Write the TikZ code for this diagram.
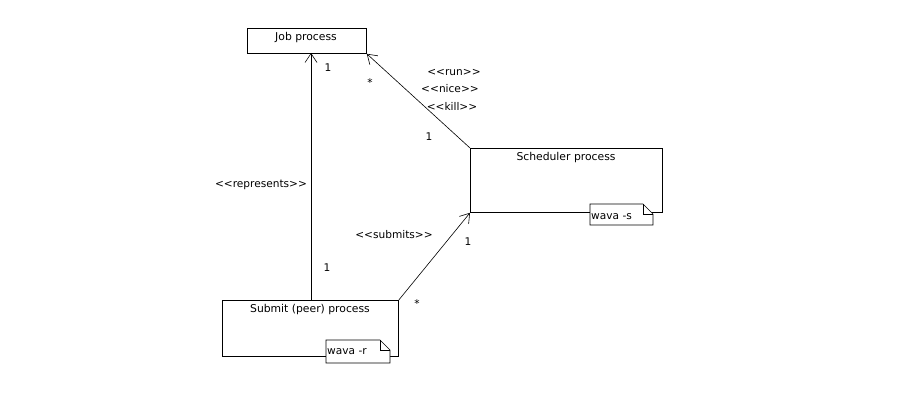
\documentclass[tikz,border=0pt]{standalone}
\usepackage{fontspec}
\setmainfont{DejaVu Sans}
\usetikzlibrary{arrows.meta}
\begin{document}
\begin{tikzpicture}[x=1pt,y=-1pt,
  cls/.style={draw=black,line width=0.8pt,fill=white,inner sep=0pt,anchor=north west},
  lbl/.style={font=\fontsize{10.6}{12}\selectfont,inner sep=0pt},
  ttl/.style={font=\fontsize{10.8}{12}\selectfont,inner sep=0pt},
  assoc/.style={line width=0.6pt,-{Straight Barb[length=9pt,width=12pt,line width=0.6pt]}},
  note/.style={draw=black,line width=0.6pt,fill=white}]
\useasboundingbox (0,0) rectangle (900,401);
% classes
\node[cls,minimum width=119pt,minimum height=25pt] (job) at (247,28) {};
\node[ttl] at (306,38) {Job process};
\node[cls,minimum width=192pt,minimum height=64pt] (sch) at (470,148) {};
\node[ttl] at (566,158) {Scheduler process};
\node[cls,minimum width=176pt,minimum height=56pt] (sub) at (222,300) {};
\node[ttl] at (310,310) {Submit (peer) process};
% notes
\draw[note] (590,204) -- (643,204) -- (653,214) -- (653,225) -- (590,225) -- cycle;
\draw[line width=0.6pt] (643,204) -- (643,214) -- (653,214);
\node[lbl,anchor=west] (ns) at (591,217) {wava -s};
\draw[note] (326,340) -- (380,340) -- (390,350) -- (390,363) -- (326,363) -- cycle;
\draw[line width=0.6pt] (380,340) -- (380,350) -- (390,350);
\node[lbl,anchor=west] (nr) at (327,352) {wava -r};
% connectors
\coordinate (subtop) at (311,300);
\coordinate (jobbot) at (311,53);
\draw[assoc] (subtop) -- (jobbot);
\draw[assoc] (sch.north west) -- (job.south east);
\draw[assoc] (sub.north east) -- (sch.south west);
% labels
\node[lbl] (l1) at (328,68) {1};
\node[lbl] (l2) at (370,83) {*};
\node[lbl] (l3) at (454,72) {<{}<run>{}>};
\node[lbl] (l4) at (450,89) {<{}<nice>{}>};
\node[lbl] (l5) at (452,106) {<{}<kill>{}>};
\node[lbl] (l6) at (429,137) {1};
\node[lbl] (l7) at (261,185) {<{}<represents>{}>};
\node[lbl] (l8) at (394,235) {<{}<submits>{}>};
\node[lbl] (l9) at (468,242) {1};
\node[lbl] (l10) at (327,268) {1};
\node[lbl] (l11) at (417,304) {*};
\end{tikzpicture}
\end{document}
